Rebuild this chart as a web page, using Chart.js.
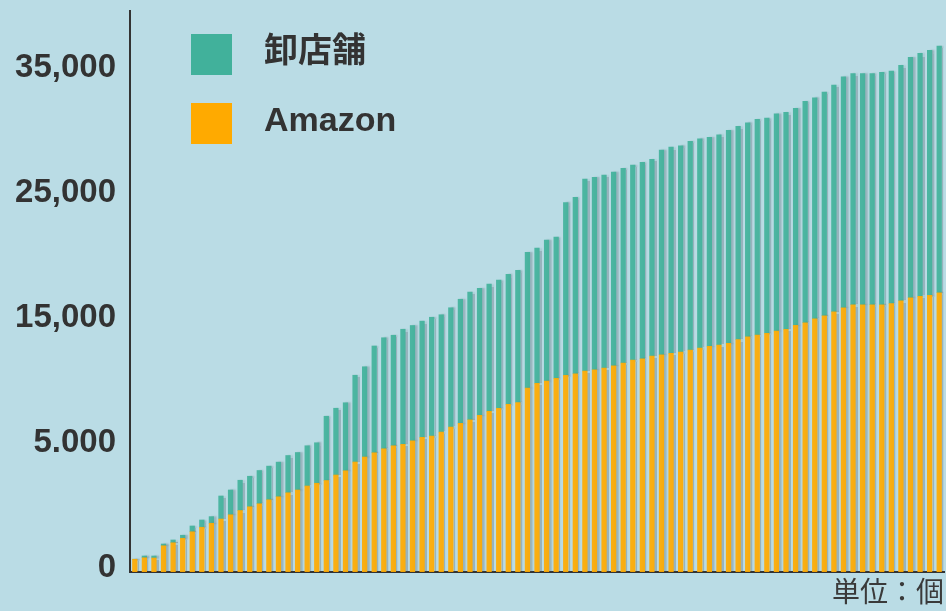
<!DOCTYPE html>
<html>
<head>
<meta charset="utf-8">
<script src="https://cdn.jsdelivr.net/npm/chart.js@4"></script>
<style>
html,body{margin:0;padding:0;background:#badce5;}
#wrap{width:946px;height:611px;}
</style>
</head>
<body>
<div id="wrap"><canvas id="c" width="946" height="611"></canvas></div>
<script>
// Values (axis units: one tick step = 10000)
const amazon = [1020,1140,1120,2100,2340,2700,3220,3580,3900,4240,
  4580,4920,5220,5460,5780,6020,6340,6560,6880,7100,
  7320,7760,8100,8800,9200,9540,9860,10100,10220,10500,
  10780,10880,11200,11600,11900,12180,12540,12860,13100,13420,
  13560,14720,15100,15280,15500,15740,15860,16080,16180,16320,
  16500,16720,16960,17060,17280,17380,17500,17600,17760,17920,
  18060,18160,18300,18600,18820,18960,19100,19280,19420,19740,
  19940,20260,20500,20820,21140,21380,21380,21380,21380,21480,
  21700,21940,22060,22140,22340];
const oroshi = [0,140,160,140,220,240,460,580,530,1840,
  1980,2420,2440,2660,2690,2770,2980,3000,3220,3240,
  5140,5340,5440,6940,7220,8540,8880,8840,9200,9220,
  9290,9500,9380,9540,9920,10220,10160,10180,10260,10390,
  10580,10860,10820,11280,11300,13810,14110,15360,15390,15440,
  15500,15580,15600,15710,15740,16380,16500,16500,16700,16740,
  16720,16820,17040,17060,17120,17260,17220,17380,17360,17360,
  17710,17680,17900,18140,18480,18490,18490,18490,18600,18600,
  18830,19230,19430,19590,19740];
const categories = amazon.map((_, i) => String(i + 1));
const seriesNames = ['Amazon', '卸店舗'];
const barColors = ['rgba(255,170,0,0.92)', 'rgba(66,178,155,0.92)'];
const legendColors = ['#ffaa00', '#41b19b'];
const yTickValues = [0, 10000, 20000, 30000, 40000];
const yTickLabels = ['0', '5.000', '15,000', '25,000', '35,000'];
const unitLabel = '単位：個';

const FONT = "'Liberation Sans', Arial, 'Noto Sans CJK JP', sans-serif";
const TEXT = '#333333';

const bgPlugin = {
  id: 'bg',
  beforeDraw(chart) {
    const ctx = chart.ctx;
    ctx.save();
    ctx.fillStyle = '#badce5';
    ctx.fillRect(0, 0, chart.width, chart.height);
    ctx.restore();
  }
};
const shadowPlugin = {
  id: 'barShadow',
  beforeDatasetsDraw(chart) {
    const ctx = chart.ctx;
    ctx.save();
    ctx.shadowColor = 'rgba(60,75,85,0.3)';
    ctx.shadowOffsetX = 2.5;
    ctx.shadowOffsetY = 0;
    ctx.shadowBlur = 1.5;
  },
  afterDatasetsDraw(chart) {
    chart.ctx.restore();
  }
};
const legendPlugin = {
  id: 'customLegend',
  afterDraw(chart) {
    const ctx = chart.ctx;
    const ds = chart.data.datasets;
    const order = [1, 0];
    ctx.save();
    order.forEach((di, row) => {
      const y = 34 + row * 69;
      ctx.fillStyle = legendColors[di];
      ctx.fillRect(191, y, 41, 41);
      ctx.fillStyle = TEXT;
      ctx.font = "bold 34px " + FONT;
      ctx.textAlign = 'left';
      ctx.textBaseline = 'middle';
      ctx.fillText(ds[di].label, 264, y + 19);
    });
    ctx.restore();
  }
};

new Chart(document.getElementById('c'), {
  type: 'bar',
  data: {
    labels: categories,
    datasets: [
      { label: seriesNames[0], data: amazon, backgroundColor: barColors[0], barThickness: 4.6, borderWidth: 0 },
      { label: seriesNames[1], data: oroshi, backgroundColor: barColors[1], barThickness: 4.6, borderWidth: 0 }
    ]
  },
  options: {
    responsive: false,
    animation: false,
    devicePixelRatio: 1,
    layout: { padding: { top: 11, right: 2, left: 0, bottom: 0 } },
    plugins: { legend: { display: false }, tooltip: { enabled: false } },
    scales: {
      x: {
        stacked: true,
        grid: { display: false, drawTicks: false },
        border: { display: true, color: '#333333', width: 2 },
        ticks: { display: false },
        title: {
          display: true, text: unitLabel, align: 'end', color: '#3a3a3a',
          font: { family: FONT, size: 28, weight: 'normal' }, padding: 0
        },
        afterFit(scale) { scale.height = 39; scale.paddingLeft = 0; scale.paddingRight = 0; }
      },
      y: {
        stacked: true,
        min: 0,
        max: 44880,
        grid: { display: false, drawTicks: false },
        border: { display: true, color: '#333333', width: 2 },
        afterBuildTicks(axis) { axis.ticks = yTickValues.map(v => ({ value: v })); },
        ticks: {
          padding: 14,
          labelOffset: -4,
          color: TEXT,
          font: { family: FONT, size: 33, weight: 'bold' },
          callback(value) {
            const i = yTickValues.indexOf(value);
            return i >= 0 ? yTickLabels[i] : '';
          }
        },
        afterFit(scale) { scale.width = 130; scale.paddingTop = 0; scale.paddingBottom = 0; }
      }
    }
  },
  plugins: [bgPlugin, shadowPlugin, legendPlugin]
});
</script>
</body>
</html>
